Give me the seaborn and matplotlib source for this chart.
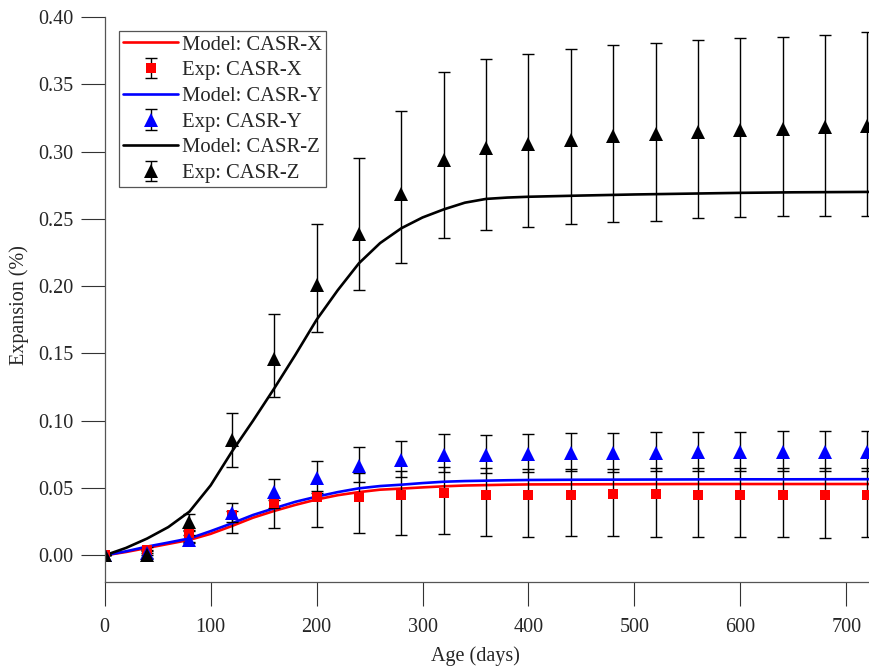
import numpy as np
import matplotlib
matplotlib.use("Agg")
import matplotlib.pyplot as plt
import seaborn as sns

# ---- experimental measurements (age in days, expansion in %) ----
exp_days = [0, 40, 80, 120, 160, 200, 240, 280, 320, 360, 400, 440, 480, 520, 560, 600, 640, 680, 720]

x_mean = [0.000, 0.004, 0.0163, 0.030, 0.0386, 0.0435, 0.0435, 0.0446, 0.0465, 0.0450, 0.0448, 0.0450,
          0.0453, 0.0453, 0.0450, 0.0450, 0.0450, 0.0450, 0.0450]
x_low = [0.000, 0.002, 0.010, 0.0168, 0.020, 0.021, 0.0168, 0.0151, 0.016, 0.0143, 0.0138, 0.0143,
         0.0141, 0.0138, 0.0138, 0.0136, 0.0134, 0.0131, 0.0134]
x_high = [0.000, 0.006, 0.018, 0.033, 0.041, 0.0465, 0.0614, 0.0626, 0.0658, 0.0646, 0.0641, 0.0639,
          0.0641, 0.0646, 0.0646, 0.0646, 0.0646, 0.0646, 0.0646]

y_mean = [0.000, 0.002, 0.0114, 0.0317, 0.0473, 0.0572, 0.0663, 0.0708, 0.0745, 0.0743, 0.0750, 0.0758,
          0.0758, 0.0762, 0.0765, 0.0765, 0.0765, 0.0765, 0.0767]
y_low = [0.000, 0.000, 0.009, 0.025, 0.0354, 0.048, 0.0547, 0.0584, 0.0621, 0.0614, 0.0621, 0.0626,
         0.0621, 0.0626, 0.0626, 0.0626, 0.0626, 0.0626, 0.0626]
y_high = [0.000, 0.004, 0.015, 0.039, 0.0569, 0.0698, 0.0807, 0.0852, 0.0904, 0.0896, 0.0901, 0.0909,
          0.0911, 0.0916, 0.0916, 0.0916, 0.0921, 0.0923, 0.0923]

z_mean = [0.000, 0.000, 0.0245, 0.0857, 0.1456, 0.2008, 0.2387, 0.2683, 0.2937, 0.3024, 0.3056, 0.3088,
          0.3113, 0.3128, 0.3143, 0.3157, 0.3167, 0.3180, 0.3190]
z_low = [0.000, -0.002, 0.019, 0.0658, 0.118, 0.166, 0.197, 0.217, 0.236, 0.2414, 0.2439, 0.2464,
         0.2476, 0.2486, 0.2504, 0.2513, 0.2521, 0.2523, 0.2523]
z_high = [0.000, 0.003, 0.0305, 0.106, 0.179, 0.246, 0.295, 0.330, 0.3593, 0.369, 0.3727, 0.3764,
          0.3791, 0.3806, 0.3826, 0.3841, 0.3853, 0.3868, 0.3888]

# ---- model predictions ----
model_days = [0, 20, 40, 60, 80, 100, 120, 140, 160, 180, 200, 220, 240, 260, 280, 300, 320, 340,
              360, 380, 400, 450, 500, 550, 600, 650, 722]
model_x = [0.000, 0.0025, 0.0055, 0.0085, 0.0115, 0.0160, 0.0218, 0.0280, 0.0330, 0.0375, 0.0415,
           0.0447, 0.0470, 0.0488, 0.0496, 0.0505, 0.0513, 0.0519, 0.0522, 0.0525, 0.0527, 0.0528,
           0.0529, 0.0530, 0.0530, 0.0530, 0.0530]
model_y = [0.000, 0.0030, 0.0065, 0.0095, 0.0126, 0.0180, 0.0238, 0.0300, 0.0350, 0.0398, 0.0436,
           0.0470, 0.0498, 0.0515, 0.0525, 0.0537, 0.0547, 0.0552, 0.0555, 0.0558, 0.0560, 0.0562,
           0.0563, 0.0564, 0.0565, 0.0565, 0.0566]
model_z = [0.000, 0.0055, 0.0125, 0.021, 0.0325, 0.052, 0.077, 0.100, 0.124, 0.149, 0.175, 0.197,
           0.217, 0.232, 0.243, 0.251, 0.257, 0.262, 0.2648, 0.2658, 0.2664, 0.2673, 0.2681,
           0.2687, 0.2693, 0.2697, 0.2700]

x_ticks = [0, 100, 200, 300, 400, 500, 600, 700]
y_ticks = [0.00, 0.05, 0.10, 0.15, 0.20, 0.25, 0.30, 0.35, 0.40]

series = [
    ("CASR-X", model_x, x_mean, x_low, x_high, "#ff0000", "s", 7.0),
    ("CASR-Y", model_y, y_mean, y_low, y_high, "#0000ff", "^", 9.5),
    ("CASR-Z", model_z, z_mean, z_low, z_high, "#000000", "^", 9.5),
]

sns.set_theme(style="ticks")
text_color = "#262626"
plt.rcParams["font.family"] = ["Liberation Serif", "DejaVu Serif"]
plt.rcParams["font.size"] = 14.5
plt.rcParams["text.color"] = text_color
plt.rcParams["axes.labelcolor"] = text_color
plt.rcParams["xtick.color"] = "#333333"
plt.rcParams["ytick.color"] = "#333333"
plt.rcParams["xtick.labelcolor"] = text_color
plt.rcParams["ytick.labelcolor"] = text_color

fig = plt.figure(figsize=(8.69, 6.71), dpi=100)
ax = fig.add_axes([0.1205, 0.1322, 0.8795, 0.8426])

handles, labels = [], []
for name, model, mean, low, high, color, marker, ms in series:
    sns.lineplot(x=model_days, y=model, ax=ax, color=color, linewidth=1.9,
                 estimator=None, sort=False, legend=False)
    line = ax.lines[-1]
    handles.append(line)
    labels.append(f"Model: {name}")

    m = np.asarray(mean)
    yerr = [m - np.asarray(low), np.asarray(high) - m]
    eb = ax.errorbar(exp_days, mean, yerr=yerr, fmt=marker, color=color, ecolor="black",
                     elinewidth=1.0, capsize=4, capthick=1.0, markersize=ms,
                     linestyle="none")
    eb[0].set_markeredgewidth(0)
    handles.append(eb)
    labels.append(f"Exp: {name}")

ax.set_xlim(0, 721.5)
ax.set_ylim(-0.02, 0.40)
ax.set_xticks(x_ticks)
ax.set_yticks(y_ticks)
ax.yaxis.set_major_formatter(matplotlib.ticker.FormatStrFormatter("%.2f"))
ax.tick_params(axis="both", direction="out", length=17, width=0.8, labelsize=14.5)
ax.tick_params(axis="y", pad=5.5)
ax.tick_params(axis="x", pad=9)

for side in ("top", "right"):
    ax.spines[side].set_visible(False)
for side in ("left", "bottom"):
    ax.spines[side].set_color("#555555")
    ax.spines[side].set_linewidth(0.9)

ax.set_xlabel("Age (days)", fontsize=14.5)
ax.set_ylabel("Expansion (%)", fontsize=14.5)
ax.xaxis.set_label_coords(0.485, -0.1127)
ax.yaxis.set_label_coords(-0.099, 0.49)

leg = ax.legend(handles, labels, loc="upper left", bbox_to_anchor=(0.0187, 0.975),
                borderaxespad=0, frameon=True, fancybox=False, framealpha=1,
                edgecolor="#555555", fontsize=14.9, handlelength=2.65,
                handletextpad=0.2, labelspacing=0.3, borderpad=0.2, numpoints=1)
leg.get_frame().set_linewidth(0.9)

fig.savefig("out.png", dpi=100)
